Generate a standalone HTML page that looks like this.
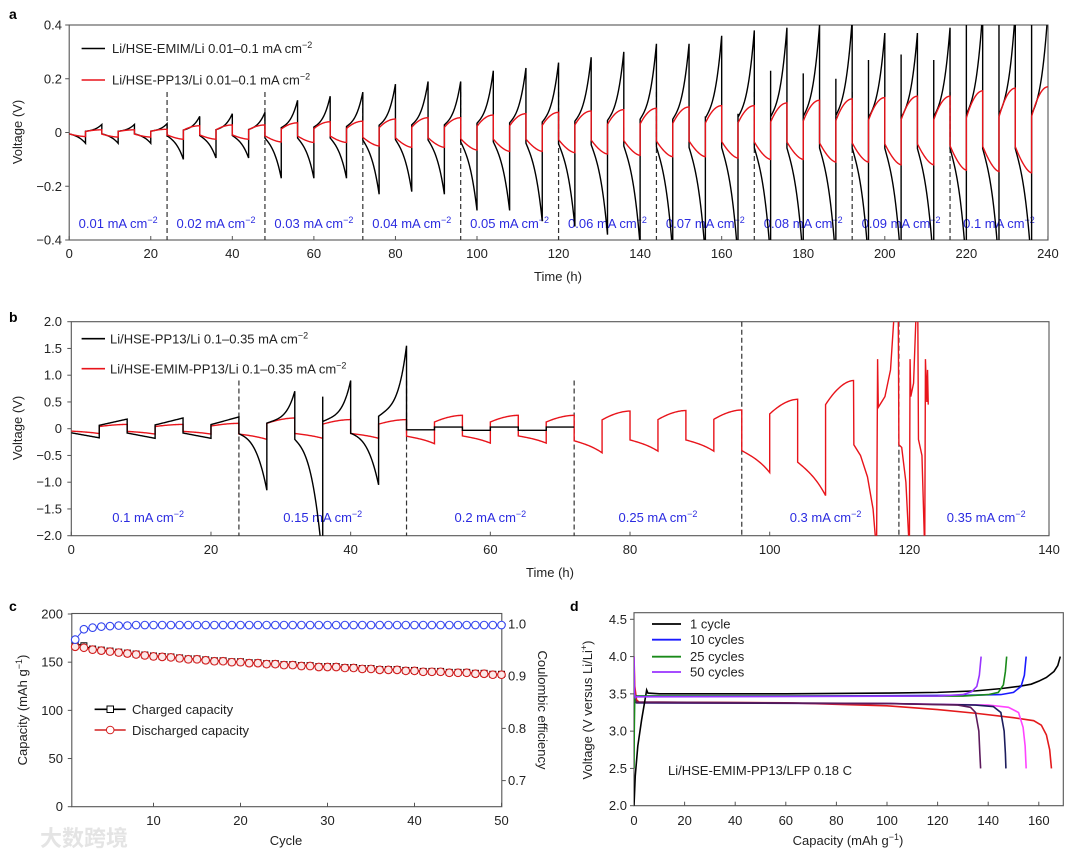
<!DOCTYPE html>
<html><head><meta charset="utf-8"><style>
html,body{margin:0;padding:0;background:#fff;}
svg{display:block;font-family:"Liberation Sans","Noto Sans CJK SC",sans-serif;}
.tk{font-size:13px;fill:#222;}
.ttl{font-size:13px;fill:#222;}
.ann{font-size:13px;fill:#2b2be0;}
.lg{font-size:13px;fill:#222;}
.pl{font-size:14px;font-weight:bold;fill:#000;}
</style></head><body>
<svg id="fig" width="1080" height="858" viewBox="0 0 1080 858" xmlns="http://www.w3.org/2000/svg">
<defs>
<clipPath id="clipA"><rect x="69.2" y="25" width="978.8" height="215"/></clipPath>
<clipPath id="clipB"><rect x="71.3" y="321.7" width="977.7" height="214"/></clipPath>
<clipPath id="clipD"><rect x="634" y="612.7" width="429.3" height="193"/></clipPath>
</defs>
<text class="pl" x="9" y="19">a</text>
<text class="pl" x="9" y="322">b</text>
<text class="pl" x="9" y="611">c</text>
<text class="pl" x="570" y="611">d</text>
<g id="gA"></g>
<g id="gB"></g>
<g id="gC"></g>
<g id="gD"></g>
<text x="40" y="846" font-size="22" fill="#e4e4e4" font-weight="bold">大数跨境</text>
</svg>
<script>
// ---------- Panel a data ----------
const aTicksX=[0,20,40,60,80,100,120,140,160,180,200,220,240];
const aTicksY=[0.4,0.2,0,-0.2,-0.4];
const aTickLabelsY=["0.4","0.2","0","\u22120.2","\u22120.4"];
const aBlackPeak=[0.03,0.03,0.033,0.06,0.07,0.075,0.12,0.135,0.15,0.18,0.19,0.19,0.23,0.24,0.26,0.28,0.30,0.33,0.33,0.36,0.38,0.39,0.40,0.42,0.37,0.37,0.39,0.45,0.45,0.45];
const aBlackTrough=[-0.04,-0.04,-0.04,-0.10,-0.095,-0.095,-0.17,-0.17,-0.17,-0.23,-0.22,-0.23,-0.29,-0.29,-0.33,-0.35,-0.38,-0.42,-0.45,-0.46,-0.47,-0.47,-0.48,-0.48,-0.48,-0.49,-0.5,-0.5,-0.5,-0.5];
const aBlackSpike=[null,null,null,null,null,null,null,null,null,null,null,null,null,null,null,null,null,null,null,0.06,0.07,0.23,0.22,0.2,0.27,0.29,0.27,0.5,0.5,0.5];
const aRedPeak=[0.01,0.01,0.012,0.025,0.028,0.028,0.036,0.04,0.042,0.05,0.055,0.055,0.065,0.07,0.075,0.08,0.085,0.09,0.095,0.10,0.10,0.11,0.12,0.125,0.13,0.135,0.135,0.155,0.165,0.17];
const aRedTrough=[-0.015,-0.017,-0.017,-0.025,-0.025,-0.025,-0.035,-0.037,-0.037,-0.05,-0.055,-0.055,-0.065,-0.07,-0.07,-0.075,-0.08,-0.085,-0.09,-0.09,-0.095,-0.1,-0.1,-0.11,-0.11,-0.12,-0.12,-0.14,-0.145,-0.15];
const aDividers=[24,48,72,96,120,144,168,192,216];
const aCurrents=["0.01","0.02","0.03","0.04","0.05","0.06","0.07","0.08","0.09","0.1"];
// ---------- Panel b data ----------
const bTicksX=[0,20,40,60,80,100,120,140];
const bTicksY=[2,1.5,1,0.5,0,-0.5,-1,-1.5,-2];
const bTickLabelsY=["2.0","1.5","1.0","0.5","0","\u22120.5","\u22121.0","\u22121.5","\u22122.0"];
const bBlackPeak1=[0.18,0.2,0.22];
const bBlackTrough1=[-0.17,-0.18,-0.18];
const bBlackPeak2=[0.7,0.9,1.55];
const bBlackTrough2=[-1.15,-2.5,-1.05];
const bBlackSpike2=[null,0.6,null];
const bBlackPeak3=[0.03,0.03,0.03];
const bBlackTrough3=[-0.02,-0.03,-0.03];
const bRedPeak=[0.08,0.08,0.1,0.2,0.17,0.17,0.25,0.25,0.25,0.33,0.34,0.35,0.55,0.9];
const bRedTrough=[-0.09,-0.1,-0.1,-0.2,-0.18,-0.18,-0.28,-0.27,-0.27,-0.45,-0.42,-0.42,-0.82,-1.25];
const bRedTailT=[112.05,113,114,114.8,115.3,115.45,115.55,116.5,117.3,117.9,118.4,118.5,118.9,119.5,120,120.1,120.2,120.6,121,121.2,121.3,121.8,122.2,122.3,122.5,122.6,122.7];
const bRedTailV=[-0.3,-0.5,-0.9,-1.5,-2.3,1.3,0.4,0.6,1.1,2.3,2.3,-0.3,-0.35,-1.0,-2.3,1.3,0.6,0.85,2.3,2.3,-0.2,-0.5,-2.3,1.3,0.5,1.1,0.45];
const bDividers=[24,48,72,96,118.5];
const bDividerTop=[0.9,0.9,0.9,2,2];
const bCurrents=["0.1","0.15","0.2","0.25","0.3","0.35"];
const bCurrentT=[11,36,60,84,108,131];
// ---------- Panel c data ----------
const cTicksX=[10,20,30,40,50];
const cTicksY=[0,50,100,150,200];
const cTicksCE=[0.7,0.8,0.9,1.0];
const cDischarge=[166,165,163,162,161,160,159,158,157,156,155.5,155,154,153,153,152,151,151,150,150,149,149,148,148,147,147,146,146,145,145,145,144,144,143,143,142,142,142,141,141,140,140,140,139,139,139,138,138,137,137];
const cChargeOffset=[3,2,0.6,0.5,0.5,0.4,0.4,0.4,0.4,0.4,0.4,0.4,0.4,0.4,0.4,0.4,0.4,0.4,0.4,0.4,0.4,0.4,0.4,0.4,0.4,0.4,0.4,0.4,0.4,0.4,0.4,0.4,0.4,0.4,0.4,0.4,0.4,0.4,0.4,0.4,0.4,0.4,0.4,0.4,0.4,0.4,0.4,0.4,0.4,0.4];
const cCE=[0.97,0.99,0.993,0.995,0.996,0.997,0.997,0.998,0.998,0.998,0.998,0.998,0.998,0.998,0.998,0.998,0.998,0.998,0.998,0.998,0.998,0.998,0.998,0.998,0.998,0.998,0.998,0.998,0.998,0.998,0.998,0.998,0.998,0.998,0.998,0.998,0.998,0.998,0.998,0.998,0.998,0.998,0.998,0.998,0.998,0.998,0.998,0.998,0.998,0.998];
// ---------- Panel d data ----------
const dTicksX=[0,20,40,60,80,100,120,140,160];
const dTicksY=[2.0,2.5,3.0,3.5,4.0,4.5];
const dCh1Cap=[0,0.5,1.5,3,4.5,5,5.5,10,60,100,120,135,145,152,157,160,163,166,167.5,168.5];
const dCh1V=[2.0,2.4,2.8,3.15,3.45,3.55,3.51,3.5,3.5,3.51,3.52,3.54,3.57,3.6,3.63,3.67,3.72,3.8,3.88,4.0];
const dDis1Cap=[0,0.3,1,2,60,100,120,135,150,158,161,163,164.3,165];
const dDis1V=[4.0,3.6,3.42,3.39,3.38,3.34,3.29,3.24,3.18,3.14,3.08,2.95,2.75,2.5];
const dCh10Cap=[0,1,60,130,145,150,153,154.3,155];
const dCh10V=[3.42,3.47,3.47,3.48,3.49,3.52,3.6,3.75,4.0];
const dDis10Cap=[0,1,100,140,148,152,153.8,154.6,155];
const dDis10V=[3.4,3.38,3.37,3.35,3.32,3.25,3.05,2.8,2.5];
const dCh25Cap=[0,0.1,0.3,1,130,140,144,146,146.8,147.3];
const dCh25V=[2.5,3.0,3.45,3.47,3.47,3.49,3.52,3.62,3.8,4.0];
const dDis25Cap=[0,1,100,135,142,145,146.3,146.8,147];
const dDis25V=[3.4,3.38,3.37,3.35,3.33,3.25,3.0,2.7,2.5];
const dCh50Cap=[0,0.2,0.5,1,120,130,133.5,135.5,136.5,137.2];
const dCh50V=[4.0,3.5,3.45,3.46,3.47,3.49,3.53,3.6,3.75,4.0];
const dDis50Cap=[0,1,100,128,133,135,136.3,136.7,137];
const dDis50V=[3.45,3.39,3.37,3.35,3.32,3.25,3.0,2.7,2.5];

const NS="http://www.w3.org/2000/svg";
function mk(tag,attrs,parent,text){const e=document.createElementNS(NS,tag);for(const k in attrs)e.setAttribute(k,attrs[k]);if(text!==undefined)e.textContent=text;parent.appendChild(e);return e;}
function pathD(pts,xs,ys){let d="";let pen=false;for(const p of pts){if(p===null){pen=false;continue;}d+=(pen?"L":"M")+xs(p[0]).toFixed(2)+","+ys(p[1]).toFixed(2);pen=true;}return d;}
function zip(a,b){return a.map((v,i)=>[v,b[i]]);}
function saw(off,troughs,peaks,sh,spikes){
  const pts=[];const n=30;
  for(let i=0;i<troughs.length;i++){
    const t0=(off+i)*8;
    const ds=troughs[i]*sh.ds;
    for(let k=0;k<=n;k++){const s=k/n;pts.push([t0+4*s,ds+(troughs[i]-ds)*sh.fD(s)]);}
    const cs=peaks[i]*sh.cs;
    if(spikes&&spikes[i]!==null&&spikes[i]!==undefined)pts.push([t0+4,spikes[i]]);
    for(let k=0;k<=n;k++){const s=k/n;pts.push([t0+4+4*s,cs+(peaks[i]-cs)*sh.fC(s)]);}
  }
  return pts;
}
function lab(parent,x,y,main,sup,cls,anchor,name){
  const t=mk("text",{x:x,y:y,"class":cls,"text-anchor":anchor||"start"},parent);
  
  
  mk("tspan",{},t,main);
  if(sup){mk("tspan",{"baseline-shift":"super","font-size":"9"},t,sup);}
  return t;
}

// ================= Panel a =================
(function(){
  const g=document.getElementById("gA");
  const X=t=>69.2+4.078*t, Y=v=>132.5-268.75*v;
  const fr=mk("rect",{x:69.2,y:25,width:978.8,height:215,fill:"none",stroke:"#555","stroke-width":1.1},g);
  
  
  aTicksX.forEach(t=>{mk("line",{x1:X(t),x2:X(t),y1:240,y2:236,stroke:"#555"},g);
    const e=mk("text",{x:X(t),y:258,"class":"tk","text-anchor":"middle"},g,String(t));
    
    });
  aTicksY.forEach((v,i)=>{mk("line",{x1:65.2,x2:69.2,y1:Y(v),y2:Y(v),stroke:"#555"},g);
    const e=mk("text",{x:62,y:Y(v)+4.5,"class":"tk","text-anchor":"end"},g,aTickLabelsY[i]);
    
    });
  aDividers.forEach(t=>{const l=mk("line",{x1:X(t),x2:X(t),y1:92,y2:240,stroke:"#333","stroke-dasharray":"5,3","stroke-width":1.2},g);
    
    });
  aCurrents.forEach((c,i)=>{lab(g,X(12+24*i),228,c+" mA cm","\u22122","ann","middle","current-label-a");});
  const cg=mk("g",{"clip-path":"url(#clipA)"},g);
  const black=saw(0,aBlackTrough,aBlackPeak,{ds:0.12,cs:0.15,fD:s=>0.5*s+0.5*s*s*s,fC:s=>0.35*s+0.65*s*s*s},aBlackSpike);
  const red=saw(0,aRedTrough,aRedPeak,{ds:0.35,cs:0.35,fD:s=>1-Math.pow(1-s,1.6),fC:s=>1-Math.pow(1-s,2)});
  const pb=mk("path",{d:pathD(black,X,Y),fill:"none",stroke:"#000","stroke-width":1.4},cg);
  
  
  const pr=mk("path",{d:pathD(red,X,Y),fill:"none",stroke:"#e8141b","stroke-width":1.4},cg);
  
  
  mk("line",{x1:81.6,x2:105,y1:48.5,y2:48.5,stroke:"#000","stroke-width":1.6},g);
  mk("line",{x1:81.6,x2:105,y1:80,y2:80,stroke:"#e8141b","stroke-width":1.6},g);
  lab(g,112,53,"Li/HSE-EMIM/Li 0.01\u20130.1 mA cm","\u22122","lg","start","legend-entry-emim");
  lab(g,112,84.5,"Li/HSE-PP13/Li 0.01\u20130.1 mA cm","\u22122","lg","start","legend-entry-pp13");
  const yt=mk("text",{x:0,y:0,"class":"ttl","text-anchor":"middle",transform:"translate(22,132) rotate(-90)"},g,"Voltage (V)");
  
  
  const xt=mk("text",{x:558,y:281,"class":"ttl","text-anchor":"middle"},g,"Time (h)");
  
  
})();

// ================= Panel b =================
(function(){
  const g=document.getElementById("gB");
  const X=t=>71.3+6.984*t, Y=v=>428.7-53.5*v;
  const fr=mk("rect",{x:71.3,y:321.7,width:977.7,height:214,fill:"none",stroke:"#555","stroke-width":1.1},g);
  
  
  bTicksX.forEach(t=>{mk("line",{x1:X(t),x2:X(t),y1:535.7,y2:531.7,stroke:"#555"},g);
    const e=mk("text",{x:X(t),y:554,"class":"tk","text-anchor":"middle"},g,String(t));
    
    });
  bTicksY.forEach((v,i)=>{mk("line",{x1:67.3,x2:71.3,y1:Y(v),y2:Y(v),stroke:"#555"},g);
    const e=mk("text",{x:62,y:Y(v)+4.5,"class":"tk","text-anchor":"end"},g,bTickLabelsY[i]);
    
    });
  bDividers.forEach((t,i)=>{const l=mk("line",{x1:X(t),x2:X(t),y1:Y(bDividerTop[i]),y2:535.7,stroke:"#333","stroke-dasharray":"5,3","stroke-width":1.2},g);
    
    });
  bCurrents.forEach((c,i)=>{lab(g,X(bCurrentT[i]),522,c+" mA cm","\u22122","ann","middle","current-label-b");});
  const cg=mk("g",{"clip-path":"url(#clipB)"},g);
  const k1=saw(0,bBlackTrough1,bBlackPeak1,{ds:0.45,cs:0.35,fD:s=>s,fC:s=>s});
  const k2=saw(3,bBlackTrough2,bBlackPeak2,{ds:0.08,cs:0.15,fD:s=>0.25*s+0.75*Math.pow(s,3),fC:s=>0.3*s+0.7*Math.pow(s,4)},bBlackSpike2);
  const k3=saw(6,bBlackTrough3,bBlackPeak3,{ds:1,cs:1,fD:s=>s,fC:s=>s});
  const black=k1.concat(k2,k3);
  const red=saw(0,bRedTrough,bRedPeak,{ds:0.5,cs:0.5,fD:s=>0.7*s+0.3*s*s*s,fC:s=>1-Math.pow(1-s,1.8)}).concat(zip(bRedTailT,bRedTailV));
  const pr=mk("path",{d:pathD(red,X,Y),fill:"none",stroke:"#e8141b","stroke-width":1.4},cg);
  
  
  const pb=mk("path",{d:pathD(black,X,Y),fill:"none",stroke:"#000","stroke-width":1.4},cg);
  
  
  mk("line",{x1:81.6,x2:105,y1:338.7,y2:338.7,stroke:"#000","stroke-width":1.6},g);
  mk("line",{x1:81.6,x2:105,y1:368.7,y2:368.7,stroke:"#e8141b","stroke-width":1.6},g);
  lab(g,110,343.5,"Li/HSE-PP13/Li 0.1\u20130.35 mA cm","\u22122","lg","start","legend-entry-pp13-b");
  lab(g,110,373.5,"Li/HSE-EMIM-PP13/Li 0.1\u20130.35 mA cm","\u22122","lg","start","legend-entry-emim-pp13");
  const yt=mk("text",{x:0,y:0,"class":"ttl","text-anchor":"middle",transform:"translate(22,428) rotate(-90)"},g,"Voltage (V)");
  
  
  const xt=mk("text",{x:550,y:577,"class":"ttl","text-anchor":"middle"},g,"Time (h)");
  
  
})();

// ================= Panel c =================
(function(){
  const g=document.getElementById("gC");
  const X=c=>66.5+8.7*c, Y=v=>806.7-0.9635*v, YR=e=>624-(e-1)*522;
  const fr=mk("rect",{x:71.8,y:613.5,width:430,height:193.2,fill:"none",stroke:"#555","stroke-width":1.1},g);
  
  
  cTicksX.forEach(t=>{mk("line",{x1:X(t),x2:X(t),y1:806.7,y2:802.7,stroke:"#555"},g);
    const e=mk("text",{x:X(t),y:825,"class":"tk","text-anchor":"middle"},g,String(t));
    
    });
  cTicksY.forEach(v=>{mk("line",{x1:67.8,x2:71.8,y1:Y(v),y2:Y(v),stroke:"#555"},g);
    const e=mk("text",{x:63,y:Y(v)+4.5,"class":"tk","text-anchor":"end"},g,String(v));
    
    });
  cTicksCE.forEach(v=>{mk("line",{x1:501.8,x2:505.8,y1:YR(v),y2:YR(v),stroke:"#555"},g);
    const e=mk("text",{x:508,y:YR(v)+4.5,"class":"tk"},g,v.toFixed(1));
    
    });
  const cyc=cDischarge.map((v,i)=>i+1);
  const ch=cyc.map((c,i)=>[c,cDischarge[i]+cChargeOffset[i]]);
  const ds=cyc.map((c,i)=>[c,cDischarge[i]]);
  const ce=cyc.map((c,i)=>[c,cCE[i]]);
  const lc=mk("path",{d:pathD(ch,X,Y),fill:"none",stroke:"#000","stroke-width":1.3},g);
  
  
  ch.forEach(p=>{const r=mk("rect",{x:X(p[0])-3,y:Y(p[1])-3,width:6,height:6,fill:"none",stroke:"#000","stroke-width":1},g);
    
    });
  const ld=mk("path",{d:pathD(ds,X,Y),fill:"none",stroke:"#d42020","stroke-width":1.3},g);
  
  
  ds.forEach(p=>{const c=mk("circle",{cx:X(p[0]),cy:Y(p[1]),r:3.8,fill:"#fbe9e9",stroke:"#d42020","stroke-width":1.1},g);
    
    });
  const le=mk("path",{d:pathD(ce,X,YR),fill:"none",stroke:"#3344ee","stroke-width":1},g);
  
  
  ce.forEach(p=>{const c=mk("circle",{cx:X(p[0]),cy:YR(p[1]),r:3.8,fill:"#fff",stroke:"#3344ee","stroke-width":1.1},g);
    
    });
  mk("line",{x1:94.6,x2:125.7,y1:709.3,y2:709.3,stroke:"#000","stroke-width":1.6},g);
  mk("rect",{x:107,y:706,width:6.5,height:6.5,fill:"#fff",stroke:"#000"},g);
  mk("line",{x1:94.6,x2:125.7,y1:730,y2:730,stroke:"#d42020","stroke-width":1.6},g);
  mk("circle",{cx:110.2,cy:730,r:3.8,fill:"#fff",stroke:"#d42020"},g);
  lab(g,132,714,"Charged capacity","","lg","start","legend-entry-charged");
  lab(g,132,735,"Discharged capacity","","lg","start","legend-entry-discharged");
  const yt=mk("text",{x:0,y:0,"class":"ttl","text-anchor":"middle",transform:"translate(27,710) rotate(-90)"},g);
  
  
  mk("tspan",{},yt,"Capacity (mAh g");mk("tspan",{"baseline-shift":"super","font-size":"9"},yt,"\u22121");mk("tspan",{},yt,")");
  const y2=mk("text",{x:0,y:0,"class":"ttl","text-anchor":"middle",transform:"translate(538,710) rotate(90)"},g,"Coulombic efficiency");
  
  
  const xt=mk("text",{x:286,y:845,"class":"ttl","text-anchor":"middle"},g,"Cycle");
  
  
})();

// ================= Panel d =================
(function(){
  const g=document.getElementById("gD");
  const X=c=>634+2.53*c, Y=v=>805.7-(v-2)*74.56;
  const fr=mk("rect",{x:634,y:612.7,width:429.3,height:193,fill:"none",stroke:"#555","stroke-width":1.1},g);
  
  
  dTicksX.forEach(t=>{mk("line",{x1:X(t),x2:X(t),y1:805.7,y2:801.7,stroke:"#555"},g);
    const e=mk("text",{x:X(t),y:825,"class":"tk","text-anchor":"middle"},g,String(t));
    
    });
  dTicksY.forEach(v=>{mk("line",{x1:630,x2:634,y1:Y(v),y2:Y(v),stroke:"#555"},g);
    const e=mk("text",{x:627,y:Y(v)+4.5,"class":"tk","text-anchor":"end"},g,v.toFixed(1));
    
    });
  const cg=mk("g",{"clip-path":"url(#clipD)"},g);
  const curves=[
    [dDis1Cap,dDis1V,"#e31a1c","discharge-1-cycle"],
    [dDis10Cap,dDis10V,"#ff44ff","discharge-10-cycles"],
    [dDis25Cap,dDis25V,"#1c1c5c","discharge-25-cycles"],
    [dDis50Cap,dDis50V,"#5c1a5c","discharge-50-cycles"],
    [dCh1Cap,dCh1V,"#000000","charge-1-cycle"],
    [dCh10Cap,dCh10V,"#1a1aff","charge-10-cycles"],
    [dCh25Cap,dCh25V,"#1a8a1a","charge-25-cycles"],
    [dCh50Cap,dCh50V,"#9933ff","charge-50-cycles"]];
  curves.forEach(c=>{const p=mk("path",{d:pathD(zip(c[0],c[1]),X,Y),fill:"none",stroke:c[2],"stroke-width":1.6},cg);
    
    });
  const lgs=[["1 cycle","#000",624],["10 cycles","#1a1aff",639.7],["25 cycles","#1a8a1a",656.7],["50 cycles","#9933ff",672]];
  lgs.forEach(l=>{mk("line",{x1:652,x2:681,y1:l[2],y2:l[2],stroke:l[1],"stroke-width":1.8},g);
    lab(g,690,l[2]+4.5,l[0],"","lg","start","legend-entry-d");});
  lab(g,668,775,"Li/HSE-EMIM-PP13/LFP 0.18 C","","lg","start","cell-annotation-d");
  const yt=mk("text",{x:0,y:0,"class":"ttl","text-anchor":"middle",transform:"translate(592,710) rotate(-90)"},g);
  
  
  mk("tspan",{},yt,"Voltage (V versus Li/Li");mk("tspan",{"baseline-shift":"super","font-size":"9"},yt,"+");mk("tspan",{},yt,")");
  const xt=mk("text",{x:848,y:845,"class":"ttl","text-anchor":"middle"},g);
  
  
  mk("tspan",{},xt,"Capacity (mAh g");mk("tspan",{"baseline-shift":"super","font-size":"9"},xt,"\u22121");mk("tspan",{},xt,")");
})();
</script>
</body></html>
